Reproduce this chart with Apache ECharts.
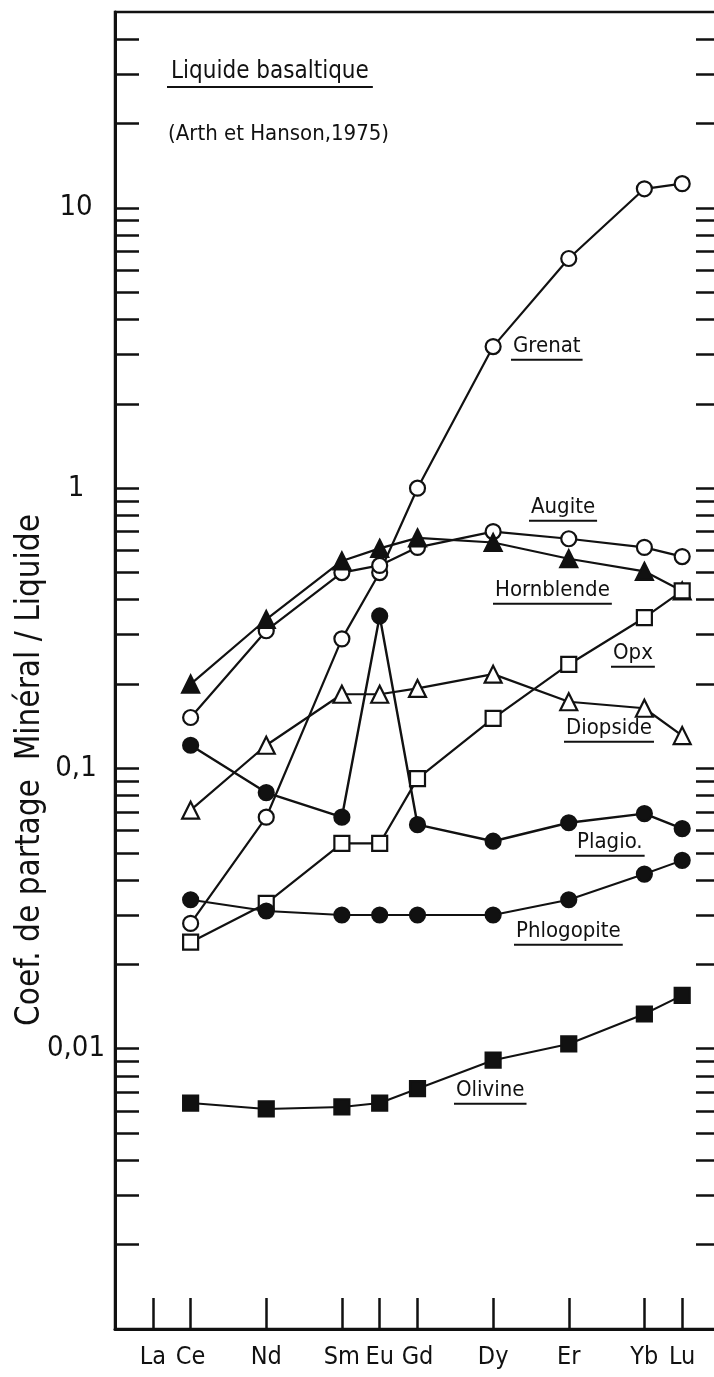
<!DOCTYPE html>
<html>
<head>
<meta charset="utf-8">
<title>Coefficients de partage - liquide basaltique</title>
<script src="https://cdn.jsdelivr.net/npm/echarts@6/dist/echarts.min.js"></script>
<style>
  html, body { margin: 0; padding: 0; background: #fff; }
  #chart { width: 714px; height: 1377px; }
</style>
</head>
<body>
<div id="chart"></div>
<script>
// Terres rares : symbole et numéro atomique (axe x)
const elements = ['La', 'Ce', 'Nd', 'Sm', 'Eu', 'Gd', 'Dy', 'Er', 'Yb', 'Lu']
const atomicNumbers = [57, 58, 60, 62, 63, 64, 66, 68, 70, 71]

// Éléments mesurés (pas de valeur pour La)
const measured = [58, 60, 62, 63, 64, 66, 68, 70, 71]

// Coefficients de partage minéral / liquide (Arth et Hanson, 1975)
const grenat = [0.028, 0.067, 0.29, 0.50, 1.0, 3.2, 6.6, 11.7, 12.2]
const augite = [0.152, 0.31, 0.50, 0.53, 0.615, 0.70, 0.66, 0.615, 0.57]
const hornblende = [0.20, 0.34, 0.55, 0.61, 0.665, 0.64, 0.56, 0.505, 0.43]
const opx = [0.024, 0.033, 0.054, 0.054, 0.092, 0.151, 0.235, 0.345, 0.43]
const diopside = [0.071, 0.121, 0.184, 0.184, 0.193, 0.217, 0.173, 0.164, 0.131]
const plagio = [0.121, 0.082, 0.067, 0.35, 0.063, 0.055, 0.064, 0.069, 0.061]
const phlogopite = [0.034, 0.031, 0.030, 0.030, 0.030, 0.030, 0.034, 0.042, 0.047]
const olivine = [0.0064, 0.0061, 0.0062, 0.0064, 0.0072, 0.0091, 0.0104, 0.0133, 0.0155]

// Graduations de l'axe y (log)
const yLabelValues = [0.01, 0.1, 1, 10]
const decades = [0.001, 0.01, 0.1, 1, 10]
const mantissas = [1, 2, 3, 4, 5, 6, 7, 8, 9]

const FONT = "'DejaVu Sans Condensed', 'Liberation Sans Narrow', sans-serif"
const NARROW = "'Liberation Sans Narrow', 'DejaVu Sans Condensed', sans-serif"
const INK = '#111'

const yTickValues = []
decades.forEach(d => mantissas.forEach(m => {
  const v = +(d * m).toPrecision(3)
  if (v > 0.001 && v < 50) yTickValues.push(v)
}))

const pairs = values => measured.map((z, i) => [z, values[i]])

// Style des marqueurs : ouverts (blancs) ou pleins (noirs)
const makeSeries = (name, values, symbol, filled, width) => ({
  name,
  type: 'line',
  data: pairs(values),
  symbol,
  symbolSize: symbol === 'triangle' ? 17 : 15,
  showAllSymbol: true,
  lineStyle: { color: INK, width: width || 2.2 },
  itemStyle: {
    color: filled ? INK : '#fff',
    borderColor: INK,
    borderWidth: 2.2
  },
  emphasis: { disabled: true },
  z: 3
})

const yAxisBase = {
  type: 'log',
  logBase: 10,
  min: 0.001,
  max: 50,
  splitLine: { show: false },
  minorTick: { show: false },
  axisLine: { show: true, lineStyle: { color: INK, width: 3 } },
  axisTick: {
    show: true,
    inside: true,
    length: 24,
    customValues: yTickValues,
    lineStyle: { color: INK, width: 2.5 }
  }
}

// Étiquettes des minéraux (texte souligné)
const mineralLabels = [
  { text: 'Grenat', x: 513, y: 346 },
  { text: 'Augite', x: 531, y: 507 },
  { text: 'Hornblende', x: 495, y: 590 },
  { text: 'Opx', x: 613, y: 653 },
  { text: 'Diopside', x: 566, y: 728 },
  { text: 'Plagio.', x: 577, y: 842 },
  { text: 'Phlogopite', x: 516, y: 931 },
  { text: 'Olivine', x: 456, y: 1090 }
]

const chart = echarts.init(document.getElementById('chart'), null, { renderer: 'canvas' })

const option = {
  backgroundColor: '#fff',
  animation: false,
  textStyle: { fontFamily: FONT, color: INK },
  grid: {
    left: 115,
    top: 12,
    width: 605,
    height: 1317,
    outerBoundsMode: 'none',
    containLabel: false,
    show: true,
    borderColor: INK,
    borderWidth: 2.5,
    backgroundColor: 'transparent'
  },
  xAxis: {
    type: 'value',
    min: 56,
    max: 72,
    splitLine: { show: false },
    axisLine: { show: true, lineStyle: { color: INK, width: 3 } },
    axisTick: {
      show: true,
      inside: true,
      length: 31,
      customValues: atomicNumbers,
      lineStyle: { color: INK, width: 2.5 }
    },
    axisLabel: {
      customValues: atomicNumbers,
      formatter: v => elements[atomicNumbers.indexOf(v)] || '',
      margin: 16,
      fontSize: 25,
      fontFamily: FONT,
      color: INK
    }
  },
  yAxis: [
    Object.assign({}, yAxisBase, {
      position: 'left',
      axisLabel: {
        customValues: yLabelValues,
        formatter: v => String(v).replace('.', ','),
        margin: 39,
        align: 'center',
        fontSize: 29,
        fontFamily: FONT,
        color: INK
      }
    }),
    Object.assign({}, yAxisBase, {
      position: 'right',
      axisLabel: { show: false }
    })
  ],
  series: [
    makeSeries('Grenat', grenat, 'circle', false),
    makeSeries('Augite', augite, 'circle', false),
    makeSeries('Hornblende', hornblende, 'triangle', true),
    makeSeries('Opx', opx, 'rect', false),
    makeSeries('Diopside', diopside, 'triangle', false),
    makeSeries('Plagio.', plagio, 'circle', true, 2.4),
    makeSeries('Phlogopite', phlogopite, 'circle', true, 2),
    makeSeries('Olivine', olivine, 'rect', true, 2)
  ]
}

chart.setOption(option)

// Titres, étiquettes soulignées et titre de l'axe y
const measureWidth = (text, font) => {
  const ctx = document.createElement('canvas').getContext('2d')
  ctx.font = font
  return ctx.measureText(text).width
}

const graphics = []

const addUnderlined = (text, x, y, font, size, pad) => {
  const w = measureWidth(text, size + 'px ' + font)
  graphics.push({
    type: 'text',
    x, y,
    style: { text, font: size + 'px ' + font, fill: INK, align: 'left', verticalAlign: 'middle' }
  })
  graphics.push({
    type: 'line',
    shape: { x1: x - pad, y1: y + size * 0.62, x2: x + w + pad, y2: y + size * 0.62 },
    style: { stroke: INK, lineWidth: 2 }
  })
}

// taille du titre ajustée pour une largeur d'environ 200 px
const titleText = 'Liquide basaltique'
const titleSize = Math.min(30, Math.round(200 / measureWidth(titleText, '10px ' + NARROW) * 10))
addUnderlined(titleText, 171, 72, NARROW, titleSize, 4)
graphics.push({
  type: 'text',
  x: 168, y: 134,
  style: { text: '(Arth et Hanson,1975)', font: '22px ' + FONT, fill: INK, align: 'left', verticalAlign: 'middle' }
})

mineralLabels.forEach(l => addUnderlined(l.text, l.x, l.y, FONT, 22, 2))

graphics.push({
  type: 'text',
  x: 30, y: 770,
  rotation: Math.PI / 2,
  style: {
    text: 'Coef. de partage  Minéral / Liquide',
    font: '33px ' + FONT,
    fill: INK,
    align: 'center',
    verticalAlign: 'middle'
  }
})

chart.setOption({ graphic: graphics })
</script>
</body>
</html>
